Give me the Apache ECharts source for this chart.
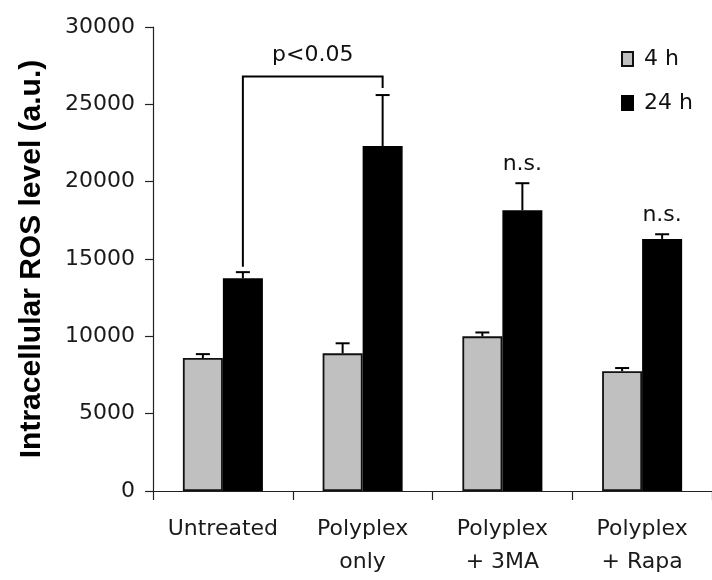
<!DOCTYPE html>
<html>
<head>
<meta charset="utf-8">
<script src="https://cdn.jsdelivr.net/npm/echarts@6/dist/echarts.min.js"></script>
<style>html,body{margin:0;padding:0;background:#fff}#c{width:712px;height:580px}</style>
</head>
<body>
<div id="c"></div>
<script>
const categories = ['Untreated', 'Polyplex\nonly', 'Polyplex\n+ 3MA', 'Polyplex\n+ Rapa'];
const seriesNames = ['4 h', '24 h'];
const values4h = [8600, 8900, 10000, 7750];
const errors4h = [250, 650, 250, 200];
const values24h = [13750, 22300, 18150, 16300];
const errors24h = [400, 3300, 1750, 300];
const yTicks = [0, 5000, 10000, 15000, 20000, 25000, 30000];
// bracket: [from category, to category, top value, left end value, right end value]
const bracket = [0, 1, 26800, 14500, 26050];
const bracketLabel = 'p<0.05';
// n.s. labels on 24 h bars
const nsCategories = [2, 3];
const nsLabel = 'n.s.';

const FONT = 'DejaVu Sans, sans-serif';
const TITLE_FONT = 'Liberation Sans, Arial, sans-serif';
const BAR_W = 40;

function errSeries(vals, errs, dx) {
  return {
    type: 'custom',
    data: vals.map((v, i) => [i, v, v + errs[i]]),
    z: 5,
    silent: true,
    renderItem: function (params, api) {
      const top = api.coord([api.value(0), api.value(1)]);
      const cap = api.coord([api.value(0), api.value(2)]);
      const x = top[0] + dx;
      return {
        type: 'group',
        children: [
          { type: 'line', shape: { x1: x, y1: top[1], x2: x, y2: cap[1] }, style: { stroke: '#000', lineWidth: 2 } },
          { type: 'line', shape: { x1: x - 7, y1: cap[1], x2: x + 7, y2: cap[1] }, style: { stroke: '#000', lineWidth: 2 } }
        ]
      };
    }
  };
}

const chart = echarts.init(document.getElementById('c'));
chart.setOption({
  animation: false,
  grid: { left: 153, right: 0, top: 27, bottom: 89 },
  legend: {
    orient: 'vertical', left: 616, top: 43, itemWidth: 11, itemHeight: 14, itemGap: 22,
    icon: 'rect',
    textStyle: { fontFamily: FONT, fontSize: 22, color: '#111', padding: [0, 0, 0, 6] },
    data: seriesNames
  },
  xAxis: {
    type: 'category', data: categories,
    axisLine: { lineStyle: { color: '#222', width: 1.2 } },
    axisTick: { show: true, length: 9, lineStyle: { color: '#222', width: 1.2 } },
    axisLabel: { fontFamily: FONT, fontSize: 22, color: '#1a1a1a', margin: 22, lineHeight: 33, interval: 0 }
  },
  yAxis: {
    type: 'value', min: 0, max: 30000, interval: 5000,
    name: 'Intracellular ROS level (a.u.)', nameLocation: 'middle', nameGap: 106,
    nameTextStyle: { fontFamily: TITLE_FONT, fontSize: 30, fontWeight: 'bold', color: '#000' },
    axisLine: { show: true, lineStyle: { color: '#222', width: 1.2 } },
    axisTick: { show: true, length: 8, lineStyle: { color: '#222', width: 1.2 } },
    splitLine: { show: false },
    axisLabel: { fontFamily: FONT, fontSize: 22, color: '#1a1a1a', margin: 18,
      formatter: v => yTicks.includes(v) ? String(v) : '' }
  },
  series: [
    { name: seriesNames[0], type: 'bar', data: values4h, barWidth: BAR_W, barGap: '0%',
      itemStyle: { color: '#c0c0c0', borderColor: '#111', borderWidth: 1.8 } },
    { name: seriesNames[1], type: 'bar', data: values24h, barWidth: BAR_W, barGap: '0%',
      itemStyle: { color: '#000', borderColor: '#000', borderWidth: 1.5 } },
    errSeries(values4h, errors4h, -BAR_W / 2),
    errSeries(values24h, errors24h, BAR_W / 2),
    {
      type: 'custom', silent: true, z: 6,
      data: [bracket],
      renderItem: function (params, api) {
        const l = api.coord([api.value(0), api.value(3)]);
        const r = api.coord([api.value(1), api.value(4)]);
        const t = api.coord([api.value(0), api.value(2)]);
        const xl = l[0] + BAR_W / 2, xr = r[0] + BAR_W / 2;
        return {
          type: 'group',
          children: [
            { type: 'polyline', shape: { points: [[xl, l[1]], [xl, t[1]], [xr, t[1]], [xr, r[1]]] },
              style: { stroke: '#000', lineWidth: 2, fill: null } },
            { type: 'text', x: (xl + xr) / 2, y: t[1] - 21,
              style: { text: bracketLabel, fontFamily: FONT, fontSize: 22, fill: '#111', align: 'center', verticalAlign: 'middle' } }
          ]
        };
      }
    },
    {
      type: 'custom', silent: true, z: 6,
      data: nsCategories.map(i => [i, values24h[i] + errors24h[i]]),
      renderItem: function (params, api) {
        const p = api.coord([api.value(0), api.value(1)]);
        return { type: 'text', x: p[0] + BAR_W / 2, y: p[1] - 19,
          style: { text: nsLabel, fontFamily: FONT, fontSize: 22, fill: '#111', align: 'center', verticalAlign: 'middle' } };
      }
    }
  ]
});
</script>
</body>
</html>
